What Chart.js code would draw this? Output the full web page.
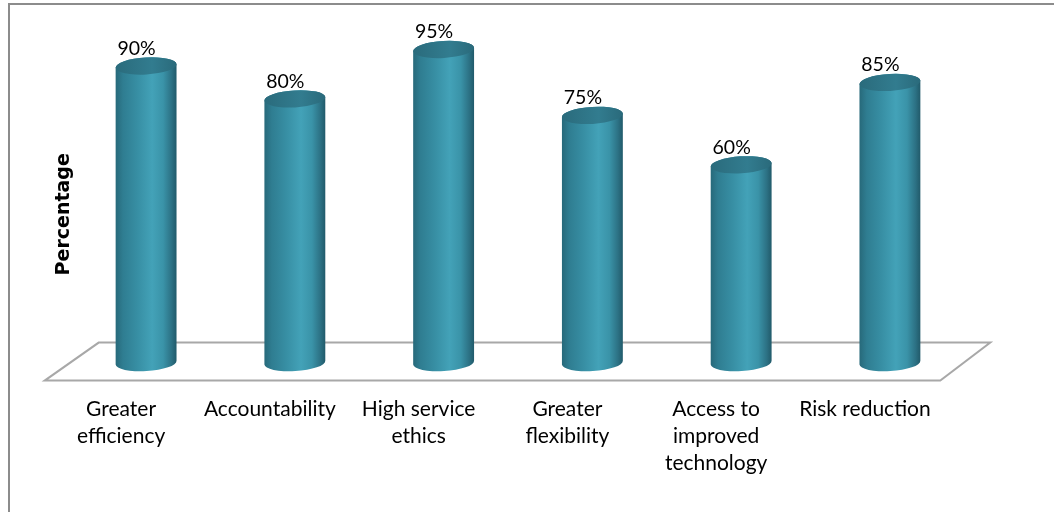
<!DOCTYPE html>
<html>
<head>
<meta charset="utf-8">
<script src="https://cdn.jsdelivr.net/npm/chart.js@4/dist/chart.umd.min.js"></script>
<style>
  html, body { margin: 0; padding: 0; background: #ffffff; }
  #wrap { width: 1054px; height: 512px; position: relative; }
</style>
</head>
<body>
<div id="wrap"><canvas id="chart" width="1054" height="512"></canvas></div>
<script>
// Benefits and the share of respondents citing each
const categories = [
  ['Greater', 'efficiency'],
  'Accountability',
  ['High service', 'ethics'],
  ['Greater', 'flexibility'],
  ['Access to', 'improved', 'technology'],
  'Risk reduction'
];
const percentages = [90, 80, 95, 75, 60, 85];
const axisTitle = 'Percentage';

const FONT = 'Lato, "Open Sans", "DejaVu Sans", sans-serif';
const TITLE_FONT = '"DejaVu Sans", Lato, sans-serif';

// Outer frame (left and top edges)
const framePlugin = {
  id: 'frame',
  beforeDraw(chart) {
    const ctx = chart.ctx;
    ctx.save();
    ctx.fillStyle = '#ffffff';
    ctx.fillRect(0, 0, chart.width, chart.height);
    ctx.strokeStyle = '#8c8c8c';
    ctx.lineWidth = 2;
    ctx.beginPath();
    ctx.moveTo(9, chart.height);
    ctx.lineTo(9, 4);
    ctx.lineTo(chart.width, 4);
    ctx.stroke();
    ctx.restore();
  }
};

// Perspective floor under the bars, anchored on the zero line
const floorPlugin = {
  id: 'floor',
  beforeDatasetsDraw(chart) {
    const ctx = chart.ctx;
    const { left, right } = chart.chartArea;
    const base = chart.scales.y.getPixelForValue(0);
    const backY = base - 20, frontY = base + 18;
    ctx.save();
    ctx.strokeStyle = '#a8a8a8';
    ctx.lineWidth = 2;
    ctx.lineJoin = 'miter';
    ctx.beginPath();
    ctx.moveTo(left + 27, backY);
    ctx.lineTo(right + 26, backY);
    ctx.lineTo(right - 24, frontY);
    ctx.lineTo(left - 27, frontY);
    ctx.closePath();
    ctx.stroke();
    ctx.restore();
  }
};

// Cylinders drawn over each bar element, plus the value labels
const cylinderPlugin = {
  id: 'cylinders',
  afterDatasetsDraw(chart) {
    const ctx = chart.ctx;
    const meta = chart.getDatasetMeta(0);
    const values = chart.data.datasets[0].data;
    const rot = -0.06;
    meta.data.forEach((bar, i) => {
      const p = bar.getProps(['x', 'y', 'base', 'width'], true);
      const rx = p.width / 2;
      const ry = 8.5;
      const cx = p.x;

      // body
      const g = ctx.createLinearGradient(cx - rx, 0, cx + rx, 0);
      g.addColorStop(0.00, '#27697a');
      g.addColorStop(0.12, '#2f7d91');
      g.addColorStop(0.35, '#378ea3');
      g.addColorStop(0.60, '#43a2b8');
      g.addColorStop(0.78, '#3a93a8');
      g.addColorStop(0.92, '#2c7184');
      g.addColorStop(1.00, '#215a6a');
      ctx.save();
      ctx.beginPath();
      ctx.ellipse(cx, p.base, rx, ry, rot, 0, Math.PI, false);
      ctx.ellipse(cx, p.y, rx, ry, rot, Math.PI, Math.PI * 2, false);
      ctx.closePath();
      ctx.fillStyle = g;
      ctx.fill();

      // top cap
      const gc = ctx.createLinearGradient(cx - rx, 0, cx + rx, 0);
      gc.addColorStop(0, '#2a6b7c');
      gc.addColorStop(0.6, '#327c8f');
      gc.addColorStop(1, '#2a6a7b');
      ctx.beginPath();
      ctx.ellipse(cx, p.y, rx, ry, rot, 0, Math.PI * 2);
      ctx.fillStyle = gc;
      ctx.fill();

      // value label
      ctx.fillStyle = '#000000';
      ctx.font = '19.5px ' + FONT;
      ctx.textAlign = 'center';
      ctx.textBaseline = 'alphabetic';
      ctx.fillText(values[i] + '%', cx - 9.5, p.y - 11);
      ctx.restore();
    });
  }
};

new Chart(document.getElementById('chart'), {
  type: 'bar',
  data: {
    labels: categories,
    datasets: [{
      data: percentages,
      backgroundColor: 'rgba(0,0,0,0)',
      borderWidth: 0,
      barPercentage: 0.41,
      categoryPercentage: 1.0
    }]
  },
  options: {
    responsive: false,
    animation: false,
    devicePixelRatio: 1,
    layout: { padding: { left: 54.7, right: 89.7, top: 33, bottom: 34.5 } },
    plugins: {
      legend: { display: false },
      tooltip: { enabled: false }
    },
    scales: {
      x: {
        offset: true,
        grid: { display: false, drawTicks: false },
        border: { display: false },
        ticks: {
          color: '#000000',
          font: { family: FONT, size: 21, lineHeight: 1.285 },
          padding: 0.5,
          labelOffset: -25,
          maxRotation: 0,
          autoSkip: false
        }
      },
      y: {
        min: -10,
        max: 100,
        grid: { display: false, drawTicks: false },
        border: { display: false },
        ticks: { display: false },
        title: {
          display: true,
          text: axisTitle,
          color: '#000000',
          font: { family: TITLE_FONT, size: 19, weight: 'bold', lineHeight: 1 },
          padding: { top: 0, bottom: -2 }
        }
      }
    }
  },
  plugins: [framePlugin, floorPlugin, cylinderPlugin]
});
</script>
</body>
</html>
